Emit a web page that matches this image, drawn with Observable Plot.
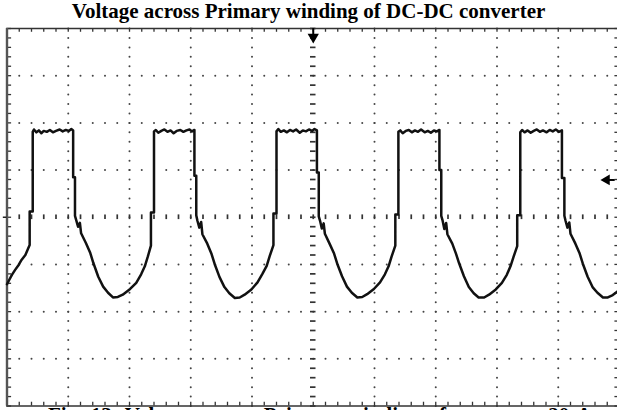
<!DOCTYPE html>
<html>
<head>
<meta charset="utf-8">
<script src="https://cdn.jsdelivr.net/npm/d3@7"></script>
<script src="https://cdn.jsdelivr.net/npm/@observablehq/plot@0.6"></script>
<style>
  html, body { margin: 0; padding: 0; background: #fff; width: 617px; height: 410px; overflow: hidden; }
  .title { font: bold 21px "Liberation Serif", "Times New Roman", serif; height: 22px; line-height: 22px; text-align: center; color: #000; white-space: nowrap; }
  .caption { position: relative; font: bold 21px "Liberation Serif", "Times New Roman", serif; height: 22px; line-height: 22px; margin-top: -6px; padding-left: 48px; color: #000; white-space: nowrap; word-spacing: 3px; }
  #chart svg { display: block; }
</style>
</head>
<body>
<div class="title">Voltage across Primary winding of DC-DC converter</div>
<div id="chart"></div>
<div class="caption">Fig. 13. Voltage across Primary winding of converter 20 A</div>
<script>
// Screen in divisions: 10 horizontal, 8 vertical (-4..4)
const divX = [0, 1, 2, 3, 4, 5, 6, 7, 8, 9, 10];
const divY = [-4, -3, -2, -1, 0, 1, 2, 3, 4];
const minorStep = 0.2;

// Trace (time in divisions, voltage in divisions)
const lead = [[0.00,-1.42],[0.04,-1.32],[0.08,-1.22],[0.13,-1.12],[0.19,-1.01],[0.24,-0.90],[0.30,-0.80],[0.34,-0.68],[0.37,-0.59],[0.37,0.12],[0.42,0.12]];
const cycle1 = [[0.42,1.81],[0.44,1.86],[0.48,1.80],[0.52,1.84],[0.56,1.78],[0.60,1.83],[0.65,1.81],[0.70,1.85],[0.75,1.80],[0.80,1.83],[0.86,1.86],[0.91,1.82],[0.96,1.85],[1.01,1.83],[1.05,1.87],[1.08,1.84],[1.08,0.85],[1.11,0.85],[1.11,0.03],[1.13,-0.06],[1.16,-0.20],[1.19,-0.12],[1.21,-0.34],[1.29,-0.55],[1.36,-0.76],[1.41,-0.97],[1.49,-1.26],[1.57,-1.47],[1.65,-1.60],[1.73,-1.70],[1.81,-1.69],[1.89,-1.64],[2.01,-1.52],[2.11,-1.39],[2.19,-1.21],[2.25,-1.04],[2.30,-0.83],[2.35,-0.60],[2.35,0.10],[2.40,0.10]];
const cycle2 = [[2.40,1.82],[2.43,1.85],[2.47,1.79],[2.52,1.83],[2.57,1.86],[2.62,1.81],[2.67,1.84],[2.72,1.78],[2.77,1.83],[2.83,1.85],[2.88,1.81],[2.93,1.84],[2.98,1.86],[3.02,1.82],[3.06,1.85],[3.06,0.88],[3.09,0.88],[3.09,0.04],[3.11,-0.08],[3.14,-0.22],[3.17,-0.10],[3.19,-0.36],[3.27,-0.56],[3.34,-0.78],[3.39,-0.99],[3.47,-1.27],[3.55,-1.48],[3.63,-1.61],[3.72,-1.71],[3.80,-1.70],[3.88,-1.64],[3.99,-1.53],[4.09,-1.38],[4.17,-1.20],[4.24,-1.03],[4.29,-0.82],[4.35,-0.59],[4.35,0.08],[4.40,0.08]];
const cycle3 = [[4.40,1.82],[4.43,1.87],[4.47,1.81],[4.52,1.84],[4.57,1.80],[4.62,1.85],[4.67,1.82],[4.72,1.86],[4.78,1.79],[4.83,1.84],[4.88,1.82],[4.93,1.86],[4.98,1.83],[5.02,1.87],[5.06,1.84],[5.06,0.95],[5.09,0.95],[5.09,0.02],[5.11,-0.07],[5.14,-0.24],[5.17,-0.13],[5.19,-0.35],[5.27,-0.57],[5.34,-0.77],[5.39,-0.98],[5.47,-1.25],[5.55,-1.47],[5.63,-1.60],[5.72,-1.70],[5.80,-1.69],[5.88,-1.63],[5.99,-1.52],[6.09,-1.38],[6.17,-1.21],[6.23,-1.04],[6.28,-0.83],[6.34,-0.60],[6.34,0.06],[6.39,0.06]];
const cycle4 = [[6.39,1.81],[6.42,1.84],[6.46,1.78],[6.51,1.83],[6.56,1.85],[6.61,1.80],[6.66,1.84],[6.71,1.81],[6.76,1.86],[6.82,1.80],[6.87,1.83],[6.92,1.79],[6.97,1.84],[7.02,1.82],[7.06,1.85],[7.06,1.00],[7.09,1.00],[7.09,0.03],[7.11,-0.06],[7.14,-0.25],[7.17,-0.12],[7.19,-0.36],[7.27,-0.56],[7.33,-0.77],[7.38,-0.97],[7.46,-1.25],[7.54,-1.48],[7.62,-1.61],[7.70,-1.70],[7.79,-1.70],[7.87,-1.64],[7.98,-1.53],[8.08,-1.39],[8.16,-1.22],[8.22,-1.04],[8.27,-0.84],[8.33,-0.61],[8.33,0.04],[8.38,0.04]];
const cycle5 = [[8.38,1.80],[8.41,1.85],[8.45,1.80],[8.50,1.84],[8.55,1.79],[8.60,1.83],[8.65,1.86],[8.70,1.81],[8.75,1.84],[8.81,1.80],[8.86,1.85],[8.91,1.82],[8.96,1.86],[9.01,1.81],[9.06,1.84],[9.06,0.83],[9.10,0.83],[9.10,0.03],[9.12,-0.08],[9.15,-0.22],[9.18,-0.11],[9.20,-0.35],[9.28,-0.56],[9.35,-0.77],[9.40,-0.98],[9.48,-1.26],[9.56,-1.48],[9.64,-1.60],[9.73,-1.70],[9.81,-1.70],[9.89,-1.65],[10.00,-1.54]];

// Markers: trigger position (top) and trigger level (right), ground reference (left)
const triggerPos = [{t: 5, v: 3.82}];
const triggerLevel = [{t: 9.79, v: 0.79}];
const groundRef = [0];

const trace = [...lead, ...cycle1, ...cycle2, ...cycle3, ...cycle4, ...cycle5];

const minorX = d3.range(divX[0], divX[divX.length - 1] + 1e-6, minorStep);
const minorY = d3.range(divY[0], divY[divY.length - 1] + 1e-6, minorStep);
const innerX = divX.slice(1, -1).filter(d => d !== 5);
const innerY = divY.slice(1, -1).filter(d => d !== 0);
const dotsV = innerX.flatMap(x => minorY.map(y => ({x, y})));
const dotsH = innerY.flatMap(y => minorX.map(x => ({x, y})));

const plot = Plot.plot({
  width: 617,
  height: 388,
  marginTop: 6,
  marginBottom: 4.5,
  marginLeft: 6.5,
  marginRight: -2,
  x: {domain: [0, 10], axis: null},
  y: {domain: [-4, 4], axis: null},
  style: {background: "white", overflow: "visible"},
  marks: [
    // dotted graticule
    Plot.dot(dotsV, {x: "x", y: "y", r: 1, fill: "#444", stroke: null}),
    Plot.dot(dotsH, {x: "x", y: "y", r: 1, fill: "#444", stroke: null}),
    // centre axes with minor ticks
    Plot.ruleY(minorY, {y: d => d, x1: 4.955, x2: 5.045, stroke: "#333", strokeWidth: 1.7}),
    Plot.ruleX(minorX, {x: d => d, y1: -0.05, y2: 0.05, stroke: "#333", strokeWidth: 1.7}),
    // border ticks
    Plot.ruleX(minorX, {x: d => d, y1: 4, y2: 3.92, stroke: "#333", strokeWidth: 1.3}),
    Plot.ruleX(minorX, {x: d => d, y1: -4, y2: -3.92, stroke: "#333", strokeWidth: 1.3}),
    Plot.ruleY(minorY, {y: d => d, x1: 0, x2: 0.075, stroke: "#333", strokeWidth: 1.3}),
    Plot.ruleY(minorY, {y: d => d, x1: 10, x2: 9.925, stroke: "#333", strokeWidth: 1.3}),
    Plot.frame({stroke: "#333", strokeWidth: 1.5}),
    Plot.ruleX([0], {stroke: "#555", strokeWidth: 2.4}),
    // ground reference stub
    Plot.ruleY(groundRef, {y: d => d, x1: -0.06, x2: 0, stroke: "#222", strokeWidth: 1.5}),
    // trace
    Plot.line(trace, {x: d => d[0], y: d => d[1], stroke: "#111", strokeWidth: 2.5, strokeLinejoin: "round"}),
    // trigger markers
    Plot.ruleX(triggerPos, {x: "t", y1: 4, y2: d => d.v, stroke: "#000", strokeWidth: 2}),
    Plot.dot(triggerPos, {x: "t", y: "v", symbol: "triangle", r: 4.2, rotate: 180, fill: "#000", stroke: null}),
    Plot.ruleY(triggerLevel, {y: "v", x1: "t", x2: d => d.t + 0.14, stroke: "#000", strokeWidth: 2}),
    Plot.dot(triggerLevel, {x: "t", y: "v", symbol: "triangle", r: 4, rotate: -90, fill: "#000", stroke: null})
  ]
});
document.getElementById("chart").appendChild(plot);
</script>
</body>
</html>
